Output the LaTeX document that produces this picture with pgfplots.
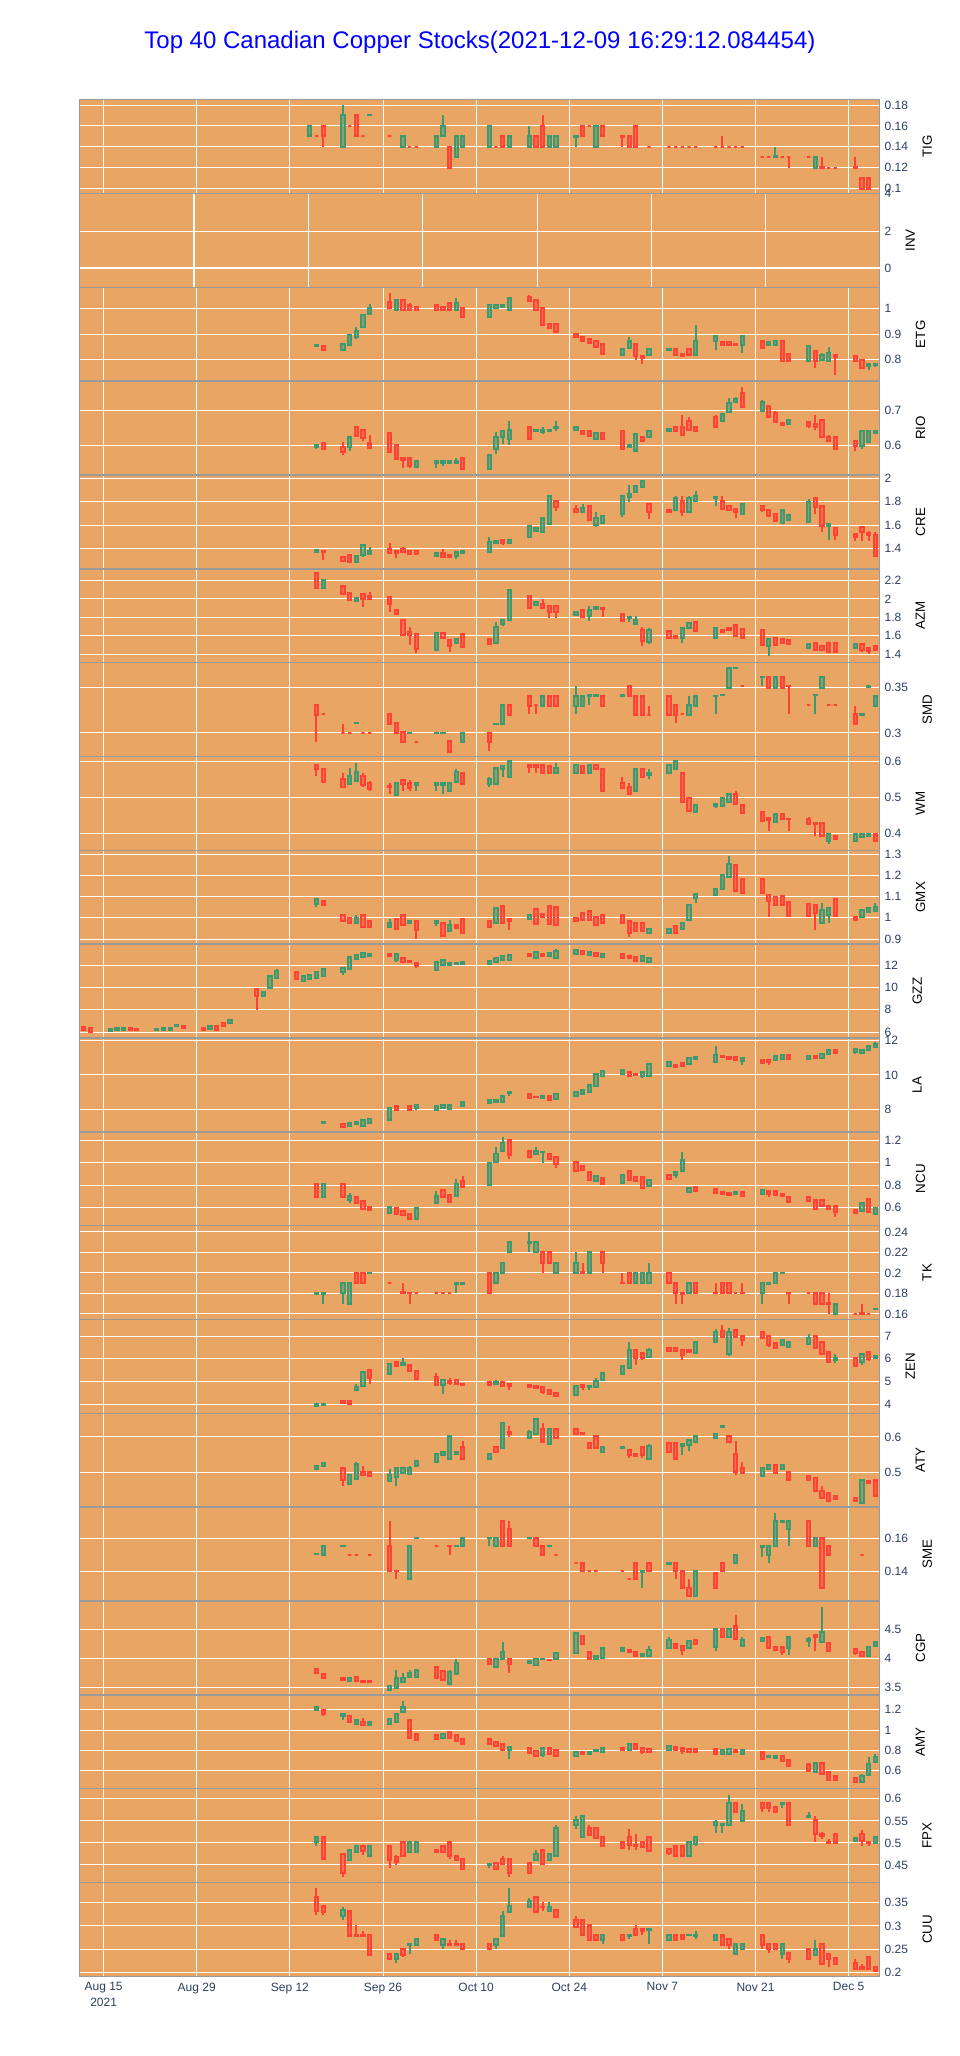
\documentclass[border=0pt]{standalone}
\usepackage{fontspec}
\setmainfont{Liberation Sans}
\usepackage{pgfplots}
\usepackage{pgfplotstable}
\pgfplotsset{compat=1.18}
\usepgfplotslibrary{groupplots}

\definecolor{bgc}{HTML}{E9A564}
\definecolor{incc}{HTML}{3D9970}
\definecolor{decc}{HTML}{FF4136}
\definecolor{fontc}{HTML}{2A3F5F}
\definecolor{framec}{HTML}{9A9A9A}

\pgfdeclareplotmark{blank}{}

\pgfplotsset{
  /pgf/number format/assume math mode=true,
  candlebase/.style={
    scatter, only marks, mark=blank,
    visualization depends on={abs(\thisrow{c}-\thisrow{o})\as\cbody},
    visualization depends on={\thisrow{h}-min(\thisrow{o},\thisrow{c})\as\chgt},
    visualization depends on={\thisrow{l}-min(\thisrow{o},\thisrow{c})\as\clow},
    scatter/@post marker code/.code={},
  },
  candleinc/.style={candlebase,
    restrict expr to domain={\thisrow{c}-\thisrow{o}}{0.0000001:1000},
    scatter/@pre marker code/.code={%
      \draw[incc, line width=1.5pt] (0pt,0pt) -- (axis direction cs:0,\clow);
      \draw[incc, line width=1.5pt] (axis direction cs:0,\cbody) -- (axis direction cs:0,\chgt);
      \filldraw[draw=incc, fill=incc, fill opacity=0.5, line width=1.5pt] (axis direction cs:-0.245,0) rectangle (axis direction cs:0.245,\cbody);
    },
  },
  candledec/.style={candlebase,
    restrict expr to domain={\thisrow{o}-\thisrow{c}}{0:1000},
    scatter/@pre marker code/.code={%
      \draw[decc, line width=1.5pt] (0pt,0pt) -- (axis direction cs:0,\clow);
      \draw[decc, line width=1.5pt] (axis direction cs:0,\cbody) -- (axis direction cs:0,\chgt);
      \filldraw[draw=decc, fill=decc, fill opacity=0.5, line width=1.5pt] (axis direction cs:-0.245,0) rectangle (axis direction cs:0.245,\cbody);
    },
  },
}

\pgfplotstableread{
d o h l c
31 0.15 0.16 0.15 0.16
32 0.15 0.15 0.15 0.15
33 0.16 0.16 0.14 0.15
36 0.14 0.18 0.14 0.17
37 0.16 0.16 0.16 0.16
38 0.17 0.17 0.15 0.15
39 0.15 0.15 0.15 0.15
40 0.17 0.1705 0.17 0.1705
43 0.15 0.15 0.15 0.15
45 0.14 0.15 0.14 0.15
46 0.14 0.14 0.14 0.14
47 0.14 0.14 0.14 0.14
50 0.14 0.15 0.14 0.15
51 0.15 0.17 0.15 0.16
52 0.14 0.14 0.12 0.12
53 0.13 0.15 0.13 0.15
54 0.14 0.15 0.14 0.15
58 0.14 0.16 0.14 0.16
59 0.14 0.14 0.14 0.14
60 0.15 0.15 0.14 0.14
61 0.14 0.15 0.14 0.15
64 0.14 0.16 0.14 0.15
65 0.15 0.15 0.14 0.14
66 0.16 0.17 0.14 0.14
67 0.14 0.15 0.14 0.15
68 0.14 0.15 0.14 0.15
71 0.149 0.15 0.14 0.15
72 0.16 0.16 0.15 0.15
73 0.16 0.16 0.16 0.16
74 0.14 0.16 0.14 0.16
75 0.16 0.16 0.15 0.15
78 0.15 0.15 0.14 0.149
79 0.15 0.15 0.14 0.14
80 0.16 0.16 0.14 0.14
82 0.14 0.14 0.14 0.14
85 0.14 0.14 0.14 0.14
86 0.14 0.14 0.14 0.14
87 0.14 0.14 0.14 0.14
88 0.14 0.14 0.14 0.14
89 0.14 0.14 0.14 0.14
92 0.14 0.14 0.14 0.14
93 0.14 0.15 0.14 0.14
94 0.14 0.14 0.14 0.14
95 0.14 0.14 0.14 0.14
96 0.14 0.14 0.14 0.14
99 0.13 0.13 0.13 0.13
100 0.13 0.13 0.13 0.13
101 0.13 0.14 0.13 0.131
102 0.13 0.13 0.13 0.13
103 0.13 0.13 0.12 0.13
106 0.13 0.13 0.13 0.13
107 0.12 0.13 0.12 0.13
108 0.121 0.13 0.12 0.12
109 0.12 0.12 0.12 0.12
110 0.12 0.12 0.12 0.12
113 0.121 0.13 0.12 0.12
114 0.11 0.11 0.10 0.10
115 0.11 0.11 0.10 0.10
}\tTIG

\pgfplotstableread{
d o h l c
32 0.855 0.86 0.853 0.86
33 0.855 0.855 0.84 0.84
36 0.84 0.862 0.84 0.862
37 0.857 0.9 0.857 0.896
38 0.888 0.93 0.88 0.914
39 0.927 0.974 0.927 0.974
40 0.979 1.02 0.975 1.005
43 1.026 1.061 1.0 1.005
44 0.997 1.035 0.997 1.035
45 1.035 1.035 0.997 0.997
46 1.016 1.022 0.997 0.997
47 1.008 1.008 0.997 0.997
50 1.013 1.013 0.997 0.997
51 1.008 1.01 0.997 0.997
52 1.021 1.021 0.997 0.997
53 0.997 1.042 0.997 1.023
54 1.003 1.003 0.968 0.968
58 0.968 1.013 0.968 1.013
59 1.005 1.013 0.998 1.013
60 1.008 1.013 1.008 1.013
61 0.997 1.044 0.997 1.044
64 1.048 1.055 1.03 1.03
65 1.035 1.035 0.997 0.997
66 1.003 1.003 0.938 0.938
67 0.94 0.94 0.925 0.925
68 0.94 0.94 0.909 0.909
71 0.903 0.903 0.888 0.888
72 0.888 0.888 0.868 0.873
73 0.882 0.882 0.866 0.866
74 0.873 0.873 0.852 0.852
75 0.862 0.862 0.823 0.823
78 0.818 0.842 0.818 0.842
79 0.847 0.89 0.847 0.873
80 0.862 0.862 0.801 0.816
81 0.816 0.816 0.782 0.808
82 0.818 0.842 0.818 0.842
85 0.839 0.844 0.839 0.844
86 0.842 0.842 0.818 0.818
87 0.823 0.823 0.816 0.816
88 0.842 0.842 0.818 0.818
89 0.818 0.938 0.818 0.873
92 0.875 0.894 0.839 0.894
93 0.87 0.87 0.857 0.857
94 0.87 0.87 0.857 0.857
95 0.862 0.862 0.857 0.857
96 0.86 0.894 0.828 0.894
99 0.875 0.875 0.847 0.847
100 0.857 0.87 0.857 0.87
101 0.857 0.875 0.857 0.875
102 0.875 0.875 0.795 0.795
103 0.823 0.823 0.795 0.795
106 0.795 0.855 0.795 0.855
107 0.834 0.834 0.769 0.795
108 0.8 0.828 0.8 0.818
109 0.795 0.852 0.795 0.826
110 0.818 0.818 0.74 0.81
113 0.813 0.813 0.795 0.795
114 0.8 0.8 0.766 0.766
115 0.777 0.782 0.761 0.782
116 0.778 0.782 0.77 0.782
}\tETG

\pgfplotstableread{
d o h l c
32 0.594 0.599 0.59 0.599
33 0.605 0.61 0.589 0.589
36 0.593 0.608 0.572 0.579
37 0.595 0.622 0.582 0.622
38 0.653 0.653 0.627 0.627
39 0.643 0.643 0.612 0.62
40 0.605 0.63 0.589 0.591
43 0.634 0.634 0.581 0.581
44 0.599 0.599 0.56 0.56
45 0.562 0.562 0.533 0.557
46 0.562 0.562 0.533 0.54
47 0.537 0.553 0.537 0.553
50 0.547 0.553 0.534 0.553
51 0.547 0.553 0.54 0.553
52 0.549 0.553 0.549 0.553
53 0.549 0.564 0.549 0.553
54 0.562 0.562 0.53 0.53
58 0.53 0.572 0.53 0.572
59 0.589 0.639 0.574 0.622
60 0.622 0.641 0.603 0.641
61 0.618 0.67 0.601 0.643
64 0.651 0.651 0.618 0.618
65 0.64 0.643 0.64 0.643
66 0.638 0.651 0.632 0.645
67 0.64 0.643 0.64 0.643
68 0.649 0.67 0.641 0.653
71 0.645 0.651 0.64 0.651
72 0.64 0.64 0.632 0.632
73 0.641 0.641 0.627 0.627
74 0.618 0.634 0.618 0.634
75 0.634 0.634 0.618 0.618
78 0.641 0.641 0.589 0.589
79 0.593 0.599 0.593 0.599
80 0.584 0.632 0.584 0.632
81 0.622 0.622 0.611 0.611
82 0.622 0.641 0.622 0.641
85 0.641 0.647 0.641 0.647
86 0.651 0.651 0.64 0.64
87 0.651 0.687 0.63 0.63
88 0.67 0.68 0.645 0.645
89 0.653 0.653 0.64 0.64
92 0.682 0.687 0.651 0.651
93 0.67 0.689 0.67 0.689
94 0.697 0.737 0.697 0.722
95 0.726 0.74 0.726 0.734
96 0.751 0.768 0.709 0.709
99 0.699 0.73 0.699 0.724
100 0.712 0.712 0.68 0.68
101 0.693 0.7 0.666 0.666
102 0.663 0.663 0.659 0.659
103 0.66 0.672 0.66 0.672
106 0.666 0.67 0.65 0.655
107 0.66 0.687 0.645 0.653
108 0.672 0.672 0.624 0.624
109 0.622 0.63 0.611 0.611
110 0.622 0.622 0.589 0.589
113 0.612 0.612 0.582 0.598
114 0.598 0.641 0.589 0.641
115 0.609 0.641 0.609 0.641
116 0.636 0.641 0.636 0.641
}\tRIO

\pgfplotstableread{
d o h l c
32 1.369 1.392 1.369 1.392
33 1.383 1.383 1.304 1.372
36 1.332 1.332 1.3 1.3
37 1.349 1.349 1.287 1.287
38 1.287 1.338 1.287 1.338
39 1.349 1.434 1.33 1.434
40 1.355 1.411 1.355 1.383
43 1.394 1.445 1.366 1.366
44 1.383 1.383 1.321 1.366
45 1.4 1.417 1.372 1.372
46 1.377 1.377 1.355 1.355
47 1.383 1.383 1.355 1.355
50 1.338 1.366 1.338 1.366
51 1.36 1.394 1.332 1.332
52 1.349 1.349 1.332 1.332
53 1.338 1.372 1.31 1.372
54 1.366 1.377 1.366 1.377
58 1.372 1.496 1.372 1.456
59 1.445 1.462 1.445 1.462
60 1.473 1.48 1.43 1.445
61 1.445 1.473 1.445 1.473
64 1.496 1.597 1.496 1.597
65 1.552 1.58 1.552 1.58
66 1.546 1.665 1.546 1.665
67 1.614 1.845 1.614 1.845
68 1.806 1.806 1.721 1.755
71 1.738 1.772 1.715 1.715
72 1.715 1.777 1.715 1.749
73 1.766 1.766 1.648 1.648
74 1.603 1.71 1.586 1.665
75 1.62 1.676 1.62 1.676
78 1.693 1.851 1.67 1.851
79 1.839 1.946 1.8 1.868
80 1.879 1.935 1.879 1.935
81 1.924 1.975 1.924 1.975
82 1.777 1.777 1.654 1.715
85 1.732 1.732 1.715 1.715
86 1.727 1.845 1.727 1.828
87 1.806 1.845 1.676 1.715
88 1.715 1.85 1.715 1.828
89 1.806 1.89 1.806 1.845
92 1.828 1.85 1.76 1.839
93 1.806 1.845 1.738 1.738
94 1.766 1.766 1.727 1.727
95 1.738 1.738 1.665 1.71
96 1.693 1.777 1.693 1.777
99 1.766 1.766 1.715 1.732
100 1.727 1.727 1.676 1.676
101 1.699 1.699 1.637 1.637
102 1.62 1.727 1.62 1.727
103 1.642 1.687 1.642 1.687
106 1.625 1.823 1.625 1.8
107 1.828 1.828 1.693 1.755
108 1.766 1.766 1.541 1.592
109 1.597 1.614 1.473 1.614
110 1.58 1.58 1.473 1.513
113 1.524 1.524 1.462 1.496
114 1.586 1.586 1.462 1.546
115 1.535 1.552 1.462 1.513
116 1.518 1.541 1.338 1.338
}\tCRE

\pgfplotstableread{
d o h l c
32 2.28 2.28 2.113 2.113
33 2.113 2.2 2.113 2.2
36 2.135 2.135 2.055 2.055
37 2.062 2.062 1.99 1.99
38 1.976 2.012 1.976 2.012
39 2.048 2.048 1.91 1.997
40 2.026 2.07 1.997 1.997
43 2.019 2.019 1.86 1.939
44 1.874 1.874 1.831 1.831
45 1.773 1.773 1.606 1.606
46 1.642 1.693 1.498 1.606
47 1.614 1.614 1.407 1.454
50 1.447 1.628 1.447 1.628
51 1.628 1.628 1.57 1.57
52 1.548 1.548 1.425 1.49
53 1.519 1.563 1.519 1.563
54 1.614 1.614 1.476 1.476
58 1.563 1.563 1.497 1.512
59 1.519 1.744 1.519 1.693
60 1.729 1.773 1.708 1.773
61 1.766 2.091 1.758 2.091
64 2.026 2.033 1.903 1.903
65 1.932 1.961 1.932 1.961
66 1.946 1.997 1.903 1.903
67 1.917 1.917 1.794 1.86
68 1.917 1.917 1.794 1.86
71 1.823 1.86 1.823 1.86
72 1.881 1.881 1.802 1.802
73 1.809 1.925 1.758 1.881
74 1.888 1.91 1.888 1.91
75 1.903 1.903 1.802 1.888
78 1.838 1.838 1.758 1.758
79 1.787 1.802 1.751 1.802
80 1.722 1.809 1.722 1.773
81 1.657 1.693 1.49 1.541
82 1.527 1.686 1.505 1.664
85 1.65 1.65 1.57 1.57
86 1.599 1.599 1.577 1.577
87 1.57 1.679 1.519 1.679
88 1.686 1.737 1.686 1.737
89 1.751 1.751 1.65 1.65
92 1.577 1.693 1.577 1.686
93 1.664 1.664 1.635 1.635
94 1.686 1.693 1.657 1.657
95 1.715 1.722 1.592 1.592
96 1.672 1.672 1.577 1.577
99 1.664 1.664 1.498 1.498
100 1.483 1.563 1.382 1.563
101 1.577 1.577 1.498 1.498
102 1.563 1.563 1.519 1.519
103 1.548 1.548 1.505 1.505
106 1.462 1.512 1.462 1.512
107 1.519 1.519 1.44 1.44
108 1.49 1.49 1.447 1.447
109 1.519 1.519 1.411 1.425
110 1.519 1.519 1.425 1.425
113 1.462 1.512 1.462 1.512
114 1.505 1.505 1.418 1.447
115 1.462 1.462 1.404 1.433
116 1.49 1.49 1.44 1.44
}\tAZM

\pgfplotstableread{
d o h l c
32 0.3307 0.3307 0.2905 0.3197
33 0.3204 0.3204 0.3204 0.3204
36 0.3 0.3102 0.3 0.3
37 0.3 0.3 0.3 0.3
38 0.3105 0.311 0.3105 0.311
39 0.3 0.3 0.3 0.3
40 0.3 0.3 0.3 0.3
43 0.3212 0.3212 0.3095 0.3095
44 0.311 0.311 0.3 0.3
45 0.3015 0.3015 0.2898 0.2898
46 0.2995 0.3 0.2995 0.3
47 0.2905 0.2905 0.2905 0.2905
50 0.2995 0.3 0.2995 0.3
51 0.2995 0.3 0.2995 0.3
52 0.2912 0.2912 0.2796 0.2796
54 0.2898 0.3 0.2898 0.3
58 0.3 0.3 0.2803 0.2898
59 0.3098 0.3102 0.3098 0.3102
60 0.3095 0.3307 0.3095 0.3307
61 0.3307 0.3307 0.3197 0.3197
64 0.3409 0.3409 0.3204 0.3299
65 0.3307 0.3307 0.3204 0.3307
66 0.3299 0.3409 0.3299 0.3409
67 0.3409 0.3416 0.3299 0.3299
68 0.3409 0.3409 0.3299 0.3299
71 0.3299 0.3511 0.3204 0.3409
72 0.3299 0.3409 0.3299 0.3409
73 0.34 0.3416 0.3307 0.3416
74 0.3405 0.341 0.3405 0.341
75 0.3409 0.3409 0.3299 0.3299
78 0.3405 0.341 0.3405 0.341
79 0.3511 0.3511 0.3409 0.3409
80 0.3409 0.3409 0.3197 0.3197
81 0.3409 0.3409 0.3197 0.3197
82 0.3197 0.3299 0.3197 0.3197
85 0.3409 0.3409 0.3197 0.3197
86 0.3307 0.3307 0.311 0.3197
87 0.3212 0.3212 0.3212 0.3212
88 0.3197 0.3409 0.3197 0.3307
89 0.3299 0.3409 0.3299 0.3409
92 0.3405 0.3409 0.3212 0.3409
93 0.3412 0.3416 0.3412 0.3416
94 0.3496 0.3715 0.3496 0.3715
95 0.3706 0.371 0.3706 0.371
96 0.3511 0.3511 0.3511 0.3511
99 0.3609 0.3613 0.3511 0.3613
100 0.3613 0.3613 0.3496 0.3496
101 0.3496 0.3613 0.3496 0.3613
102 0.3613 0.3613 0.3496 0.3496
103 0.3518 0.3518 0.3204 0.3511
106 0.3307 0.3307 0.3307 0.3307
107 0.3412 0.3416 0.3204 0.3416
108 0.3496 0.3613 0.3496 0.3613
109 0.3307 0.3307 0.3307 0.3307
110 0.3307 0.3307 0.3307 0.3307
113 0.3212 0.3299 0.3095 0.3095
114 0.32 0.3204 0.32 0.3204
115 0.3507 0.3511 0.3507 0.3511
116 0.3299 0.3409 0.3299 0.3409
}\tSMD

\pgfplotstableread{
d o h l c
32 0.589 0.589 0.559 0.578
33 0.58 0.58 0.539 0.544
36 0.55 0.569 0.528 0.528
37 0.537 0.583 0.537 0.561
38 0.546 0.596 0.546 0.57
39 0.561 0.569 0.528 0.535
40 0.541 0.546 0.519 0.524
43 0.531 0.539 0.509 0.528
44 0.507 0.541 0.507 0.541
45 0.548 0.548 0.519 0.537
46 0.541 0.548 0.519 0.526
47 0.535 0.539 0.519 0.539
50 0.535 0.539 0.519 0.539
51 0.535 0.539 0.509 0.539
52 0.517 0.539 0.517 0.539
53 0.544 0.578 0.544 0.572
54 0.569 0.569 0.537 0.537
58 0.537 0.557 0.53 0.552
59 0.537 0.581 0.537 0.581
60 0.578 0.591 0.557 0.587
61 0.557 0.6 0.557 0.6
64 0.589 0.589 0.569 0.585
65 0.589 0.589 0.569 0.585
66 0.589 0.589 0.567 0.567
67 0.587 0.587 0.567 0.567
68 0.567 0.596 0.567 0.581
71 0.567 0.589 0.567 0.589
72 0.587 0.587 0.567 0.567
73 0.567 0.589 0.567 0.589
74 0.589 0.589 0.578 0.578
75 0.58 0.58 0.517 0.517
78 0.539 0.557 0.526 0.526
79 0.53 0.539 0.511 0.511
80 0.517 0.58 0.517 0.58
81 0.58 0.58 0.557 0.557
82 0.563 0.58 0.55 0.569
85 0.567 0.589 0.567 0.589
86 0.578 0.6 0.578 0.6
87 0.569 0.569 0.487 0.487
88 0.5 0.5 0.463 0.463
89 0.461 0.48 0.461 0.48
92 0.476 0.483 0.47 0.483
93 0.476 0.498 0.476 0.498
94 0.487 0.509 0.487 0.509
95 0.509 0.517 0.483 0.483
96 0.48 0.48 0.456 0.456
99 0.459 0.459 0.435 0.435
100 0.443 0.443 0.407 0.437
101 0.433 0.454 0.433 0.454
102 0.454 0.454 0.439 0.439
103 0.44 0.44 0.407 0.439
106 0.439 0.446 0.426 0.426
107 0.43 0.43 0.394 0.426
108 0.43 0.43 0.393 0.393
109 0.38 0.398 0.37 0.398
110 0.394 0.394 0.385 0.385
113 0.378 0.4 0.378 0.4
114 0.389 0.398 0.389 0.398
115 0.394 0.4 0.394 0.4
116 0.4 0.4 0.378 0.378
}\tWM

\pgfplotstableread{
d o h l c
32 1.065 1.09 1.052 1.09
33 1.08 1.08 1.058 1.058
36 1.015 1.015 0.986 0.986
37 0.999 0.999 0.977 0.977
38 0.977 1.012 0.977 0.999
39 1.015 1.015 0.958 0.958
40 0.983 0.983 0.958 0.958
43 0.958 0.993 0.958 0.974
44 0.993 0.993 0.946 0.946
45 1.015 1.015 0.967 0.967
46 0.974 0.983 0.974 0.983
47 0.983 0.983 0.902 0.942
50 0.977 0.983 0.961 0.983
51 0.974 0.974 0.914 0.914
52 0.939 0.989 0.939 0.967
53 0.967 0.967 0.952 0.952
54 0.993 0.993 0.93 0.93
58 0.983 0.983 0.955 0.955
59 0.977 1.046 0.977 1.046
60 1.055 1.055 0.977 0.977
61 0.996 0.996 0.942 0.983
64 0.993 1.012 0.993 1.012
65 1.043 1.043 0.971 0.971
66 1.018 1.018 1.002 1.002
67 1.055 1.055 0.971 0.971
68 1.049 1.049 0.967 0.967
71 0.999 0.999 0.983 0.983
72 1.024 1.024 0.989 0.989
73 1.033 1.033 0.989 0.989
74 1.005 1.005 0.967 0.967
75 1.015 1.015 0.977 0.977
78 1.015 1.015 0.977 0.977
79 0.983 0.983 0.911 0.927
80 0.974 0.974 0.936 0.936
81 0.974 0.974 0.936 0.936
82 0.93 0.946 0.93 0.946
85 0.927 0.946 0.927 0.946
86 0.961 0.961 0.93 0.93
87 0.949 0.974 0.949 0.974
88 0.989 1.062 0.989 1.062
89 1.093 1.112 1.071 1.112
92 1.109 1.134 1.109 1.134
93 1.134 1.2 1.134 1.2
94 1.19 1.291 1.19 1.253
95 1.247 1.247 1.127 1.127
96 1.184 1.184 1.118 1.118
99 1.184 1.184 1.118 1.118
100 1.105 1.105 1.002 1.077
101 1.096 1.096 1.062 1.062
102 1.102 1.102 1.062 1.062
103 1.074 1.074 1.008 1.008
106 1.065 1.065 1.008 1.008
107 1.062 1.062 0.942 1.024
108 0.977 1.068 0.977 1.036
109 1.015 1.046 0.977 1.046
110 1.087 1.087 1.008 1.008
113 1.005 1.005 0.989 0.989
114 1.002 1.036 1.002 1.036
115 1.027 1.046 1.027 1.046
116 1.03 1.068 1.03 1.049
}\tGMX

\pgfplotstableread{
d o h l c
-3 6.45 6.45 6.21 6.21
-2 6.39 6.39 6.03 6.03
1 6.09 6.27 5.97 6.27
2 6.21 6.33 6.21 6.33
3 6.21 6.33 6.21 6.33
4 6.39 6.39 6.15 6.15
5 6.27 6.27 6.15 6.15
8 6.15 6.27 6.15 6.27
9 6.21 6.33 6.21 6.33
10 6.21 6.39 6.21 6.39
11 6.51 6.63 6.51 6.63
12 6.51 6.51 6.39 6.39
15 6.39 6.39 6.21 6.21
16 6.27 6.51 6.27 6.51
17 6.57 6.57 6.21 6.21
18 6.81 6.81 6.51 6.51
19 6.81 7.16 6.81 7.1
23 9.85 9.85 8.0 9.25
24 9.25 9.55 9.25 9.55
25 9.91 10.99 9.91 10.99
26 10.87 11.64 10.87 11.46
29 11.34 11.34 10.75 10.75
30 10.57 10.99 10.57 10.99
31 10.75 11.1 10.75 11.1
32 10.87 11.34 10.87 11.34
33 10.99 11.64 10.99 11.64
36 11.34 11.76 11.1 11.76
37 11.64 12.72 11.64 12.72
38 12.54 12.9 12.54 12.9
39 12.72 13.07 12.72 13.07
40 12.84 13.01 12.84 13.01
43 13.01 13.01 12.78 12.78
44 12.42 13.01 12.3 13.01
45 12.6 12.6 12.3 12.3
46 12.36 12.36 12.24 12.24
47 12.18 12.18 11.76 11.88
50 11.52 12.3 11.52 12.3
51 12.0 12.42 12.0 12.42
52 12.0 12.18 12.0 12.18
53 12.06 12.18 12.06 12.18
54 12.12 12.24 12.12 12.24
58 12.06 12.36 12.06 12.36
59 12.24 12.6 12.24 12.6
60 12.48 12.78 12.48 12.78
61 12.48 12.9 12.48 12.9
64 12.96 12.96 12.78 12.78
65 12.6 13.13 12.6 13.13
66 13.01 13.01 12.78 12.78
67 12.78 13.07 12.78 13.07
68 12.6 13.43 12.6 13.25
71 13.01 13.31 13.01 13.31
72 13.25 13.25 13.01 13.01
73 12.9 13.19 12.9 13.19
74 13.07 13.07 12.84 12.84
75 12.72 13.01 12.72 13.01
78 13.01 13.01 12.66 12.66
79 12.84 12.84 12.6 12.6
80 12.72 12.72 12.36 12.36
81 12.36 12.84 12.36 12.84
82 12.24 12.6 12.24 12.6
}\tGZZ

\pgfplotstableread{
d o h l c
33 7.25 7.27 7.25 7.27
36 7.19 7.19 7.0 7.0
37 7.08 7.23 7.08 7.23
38 7.15 7.27 7.15 7.27
39 7.04 7.38 7.04 7.38
40 7.23 7.46 7.23 7.46
43 7.38 8.12 7.38 8.12
44 8.19 8.27 8.0 8.0
46 8.19 8.19 8.0 8.0
47 8.08 8.27 8.0 8.27
50 8.0 8.19 8.0 8.19
51 8.12 8.27 8.12 8.27
52 8.04 8.27 8.04 8.27
54 8.19 8.42 8.19 8.42
58 8.38 8.54 8.38 8.54
59 8.42 8.58 8.42 8.58
60 8.46 8.77 8.46 8.77
61 8.96 9.04 8.77 9.04
64 8.88 8.88 8.65 8.65
65 8.75 8.75 8.73 8.73
66 8.69 8.81 8.69 8.81
67 8.81 8.81 8.58 8.58
68 8.62 8.92 8.62 8.92
71 8.77 9.04 8.77 9.04
72 8.92 9.15 8.92 9.15
73 9.04 9.42 9.04 9.42
74 9.35 10.04 9.35 10.04
75 9.92 10.23 9.92 10.23
78 10.08 10.27 10.08 10.27
79 10.19 10.19 9.96 9.96
80 10.04 10.04 10.02 10.02
81 9.92 10.19 9.81 10.19
82 9.96 10.62 9.96 10.62
85 10.5 10.73 10.5 10.73
86 10.58 10.58 10.46 10.46
87 10.69 10.69 10.5 10.5
88 10.62 11.0 10.62 11.0
89 10.92 11.04 10.92 11.04
92 10.73 11.69 10.73 11.15
93 11.08 11.08 11.06 11.06
94 11.04 11.04 10.92 10.92
95 11.04 11.04 10.88 10.88
96 10.81 11.0 10.58 11.0
99 10.85 10.85 10.69 10.69
100 10.85 10.85 10.58 10.77
101 10.88 11.08 10.88 11.08
102 10.92 11.15 10.92 11.15
103 11.15 11.15 10.92 10.92
106 10.92 11.08 10.92 11.08
107 11.08 11.08 10.96 10.96
108 10.96 11.23 10.96 11.23
109 11.23 11.46 11.23 11.46
110 11.46 11.46 11.27 11.27
113 11.31 11.5 11.23 11.5
114 11.27 11.46 11.27 11.46
115 11.42 11.65 11.42 11.65
116 11.62 11.88 11.62 11.77
}\tLA

\pgfplotstableread{
d o h l c
32 0.81 0.81 0.692 0.692
33 0.692 0.81 0.692 0.81
36 0.81 0.81 0.692 0.692
37 0.668 0.727 0.639 0.704
38 0.692 0.692 0.639 0.639
39 0.656 0.656 0.586 0.586
40 0.603 0.603 0.58 0.58
43 0.556 0.609 0.556 0.609
44 0.597 0.597 0.544 0.544
45 0.568 0.568 0.538 0.538
46 0.544 0.544 0.497 0.497
47 0.497 0.597 0.497 0.597
50 0.644 0.751 0.644 0.704
51 0.757 0.757 0.698 0.698
52 0.716 0.716 0.639 0.65
53 0.704 0.851 0.704 0.81
54 0.84 0.881 0.786 0.786
58 0.804 1.0 0.804 1.0
59 1.005 1.141 1.005 1.076
60 1.105 1.224 1.105 1.176
61 1.2 1.2 1.035 1.064
64 1.1 1.1 1.046 1.046
65 1.076 1.141 1.076 1.1
66 1.092 1.094 1.0 1.094
67 1.076 1.076 1.029 1.029
68 1.046 1.046 0.952 0.987
71 1.005 1.005 0.928 0.928
72 0.97 0.97 0.922 0.934
73 0.916 0.916 0.845 0.845
74 0.84 0.881 0.84 0.881
75 0.863 0.863 0.81 0.81
78 0.816 0.887 0.816 0.887
79 0.922 0.922 0.845 0.845
80 0.869 0.869 0.84 0.84
81 0.875 0.875 0.769 0.78
82 0.792 0.845 0.792 0.845
85 0.887 0.887 0.851 0.851
86 0.887 0.916 0.863 0.916
87 0.922 1.094 0.922 1.023
88 0.739 0.774 0.739 0.774
89 0.786 0.786 0.751 0.751
92 0.769 0.769 0.733 0.733
93 0.739 0.739 0.721 0.721
94 0.733 0.733 0.71 0.71
95 0.721 0.739 0.721 0.739
96 0.739 0.739 0.704 0.704
99 0.721 0.757 0.721 0.757
100 0.745 0.745 0.698 0.721
101 0.745 0.745 0.71 0.71
102 0.721 0.721 0.704 0.704
103 0.698 0.698 0.65 0.65
106 0.698 0.698 0.656 0.656
107 0.668 0.668 0.591 0.591
108 0.668 0.668 0.62 0.62
109 0.615 0.615 0.586 0.586
110 0.615 0.615 0.521 0.562
113 0.58 0.58 0.556 0.556
114 0.568 0.645 0.568 0.645
115 0.68 0.68 0.562 0.562
116 0.544 0.597 0.544 0.597
}\tNCU

\pgfplotstableread{
d o h l c
32 0.1798 0.18 0.1798 0.18
33 0.1795 0.18 0.17 0.18
36 0.18 0.19 0.17 0.19
37 0.17 0.19 0.17 0.19
38 0.2 0.2 0.19 0.19
39 0.2 0.2 0.19 0.19
40 0.1995 0.2 0.1995 0.2
43 0.19 0.19 0.19 0.19
45 0.181 0.19 0.18 0.18
46 0.1805 0.1805 0.17 0.18
47 0.18 0.18 0.18 0.18
50 0.18 0.18 0.18 0.18
51 0.18 0.18 0.18 0.18
52 0.18 0.18 0.18 0.18
53 0.1895 0.19 0.18 0.19
54 0.1895 0.19 0.1895 0.19
58 0.2 0.2 0.18 0.18
59 0.19 0.2 0.19 0.2
60 0.2 0.21 0.2 0.21
61 0.22 0.23 0.22 0.23
64 0.229 0.24 0.22 0.23
65 0.22 0.23 0.22 0.23
66 0.22 0.22 0.2 0.21
67 0.22 0.22 0.21 0.21
68 0.2 0.21 0.2 0.21
71 0.2 0.22 0.2 0.21
72 0.201 0.21 0.2 0.2
73 0.2 0.22 0.2 0.22
75 0.22 0.22 0.2 0.21
78 0.1905 0.2 0.19 0.19
79 0.2 0.2 0.19 0.19
80 0.19 0.2 0.19 0.2
81 0.19 0.2 0.19 0.2
82 0.19 0.21 0.19 0.2
85 0.2 0.2 0.19 0.19
86 0.19 0.19 0.17 0.18
87 0.18 0.18 0.17 0.1795
88 0.18 0.19 0.18 0.19
89 0.19 0.19 0.18 0.18
92 0.1805 0.19 0.18 0.18
93 0.19 0.19 0.18 0.18
94 0.19 0.19 0.18 0.18
95 0.18 0.18 0.18 0.18
96 0.1805 0.19 0.18 0.18
99 0.18 0.19 0.17 0.19
100 0.1895 0.19 0.1895 0.19
101 0.19 0.2 0.19 0.2
102 0.1995 0.2 0.1995 0.2
103 0.1805 0.1805 0.17 0.18
106 0.18 0.18 0.18 0.18
107 0.18 0.18 0.17 0.17
108 0.18 0.18 0.17 0.17
109 0.1705 0.18 0.16 0.17
110 0.16 0.17 0.16 0.17
113 0.16 0.16 0.16 0.16
114 0.1605 0.17 0.16 0.16
115 0.16 0.16 0.16 0.16
116 0.1648 0.1652 0.1648 0.1652
}\tTK

\pgfplotstableread{
d o h l c
32 3.93 4.01 3.93 4.01
33 3.96 4.01 3.96 4.01
36 4.13 4.13 4.04 4.04
37 4.13 4.13 4.01 4.01
38 4.6 4.9 4.6 4.75
39 4.81 5.4 4.81 5.4
40 5.51 5.51 4.87 5.13
43 5.34 5.75 5.34 5.75
44 5.84 5.84 5.69 5.69
45 5.72 6.01 5.72 5.81
46 5.72 5.72 5.46 5.46
47 5.46 5.46 5.1 5.1
50 5.19 5.37 4.84 4.84
51 4.84 5.07 4.43 5.07
52 5.01 5.13 4.84 4.93
53 5.04 5.04 4.87 4.87
54 4.9 4.9 4.84 4.84
58 4.96 4.96 4.78 4.84
59 4.87 5.04 4.87 4.96
60 4.99 4.99 4.81 4.81
61 4.87 4.87 4.63 4.78
64 4.84 4.84 4.75 4.75
65 4.81 4.81 4.69 4.69
66 4.75 4.75 4.46 4.54
67 4.63 4.63 4.46 4.46
68 4.49 4.49 4.37 4.37
71 4.4 4.81 4.4 4.81
72 4.84 4.84 4.63 4.75
73 4.75 4.81 4.63 4.81
74 4.75 5.13 4.75 5.01
75 5.07 5.37 5.07 5.37
78 5.34 5.69 5.34 5.69
79 5.6 6.72 5.6 6.4
80 6.4 6.4 5.72 6.01
81 6.25 6.25 5.93 6.04
82 6.07 6.46 6.07 6.37
85 6.49 6.49 6.34 6.34
86 6.49 6.49 6.34 6.34
87 6.37 6.37 5.93 6.16
88 6.4 6.4 6.28 6.28
89 6.25 6.75 6.25 6.75
92 6.75 7.31 6.75 7.19
93 7.22 7.49 6.96 6.96
94 6.19 7.37 6.13 7.19
95 7.25 7.25 6.96 6.96
96 6.99 6.99 6.54 6.81
99 7.16 7.16 6.9 6.9
100 6.99 6.99 6.51 6.6
101 6.69 6.69 6.46 6.46
102 6.6 6.81 6.6 6.81
103 6.51 6.72 6.51 6.72
106 6.66 7.1 6.66 6.93
107 7.01 7.01 6.46 6.46
108 6.72 6.72 6.22 6.22
109 6.28 6.28 5.84 5.84
110 5.96 6.19 5.81 6.01
113 6.01 6.01 5.69 5.69
114 5.84 6.22 5.72 6.22
115 6.31 6.31 5.9 5.99
116 6.01 6.1 6.01 6.1
}\tZEN

\pgfplotstableread{
d o h l c
32 0.508 0.517 0.508 0.517
33 0.519 0.526 0.519 0.526
36 0.511 0.511 0.462 0.477
37 0.468 0.492 0.468 0.492
38 0.481 0.53 0.481 0.523
39 0.502 0.519 0.492 0.492
40 0.502 0.502 0.489 0.489
43 0.474 0.508 0.474 0.492
44 0.487 0.511 0.46 0.511
45 0.498 0.511 0.498 0.511
46 0.496 0.519 0.496 0.511
47 0.519 0.532 0.519 0.532
50 0.528 0.551 0.528 0.551
51 0.549 0.558 0.549 0.558
52 0.538 0.602 0.538 0.602
53 0.551 0.558 0.551 0.558
54 0.572 0.589 0.538 0.538
58 0.538 0.551 0.538 0.551
59 0.572 0.572 0.558 0.558
60 0.568 0.64 0.568 0.64
61 0.613 0.63 0.6 0.608
64 0.596 0.619 0.596 0.613
65 0.608 0.651 0.608 0.651
66 0.621 0.638 0.587 0.587
67 0.579 0.621 0.579 0.621
68 0.621 0.621 0.598 0.598
71 0.621 0.621 0.608 0.608
72 0.611 0.611 0.608 0.608
73 0.583 0.583 0.568 0.568
74 0.602 0.602 0.568 0.568
75 0.558 0.572 0.558 0.572
78 0.568 0.572 0.568 0.572
79 0.562 0.562 0.541 0.549
80 0.553 0.553 0.547 0.547
81 0.572 0.572 0.541 0.549
82 0.538 0.579 0.538 0.574
85 0.583 0.583 0.558 0.558
86 0.583 0.583 0.538 0.538
87 0.575 0.581 0.549 0.581
88 0.577 0.591 0.56 0.591
89 0.587 0.602 0.587 0.602
92 0.598 0.608 0.598 0.608
93 0.628 0.632 0.628 0.632
94 0.602 0.602 0.587 0.587
95 0.553 0.589 0.491 0.5
96 0.511 0.528 0.498 0.498
99 0.489 0.511 0.489 0.511
100 0.509 0.521 0.509 0.521
101 0.521 0.521 0.498 0.498
102 0.509 0.521 0.509 0.521
103 0.502 0.502 0.479 0.479
106 0.489 0.492 0.477 0.477
107 0.485 0.485 0.447 0.447
108 0.447 0.46 0.428 0.428
109 0.441 0.441 0.419 0.419
110 0.432 0.432 0.423 0.423
113 0.428 0.428 0.419 0.419
114 0.413 0.477 0.413 0.477
115 0.474 0.474 0.47 0.47
116 0.477 0.477 0.434 0.434
}\tATY

\pgfplotstableread{
d o h l c
32 0.1502 0.1504 0.1502 0.1504
33 0.1496 0.1552 0.1496 0.1552
36 0.155 0.1552 0.155 0.1552
37 0.15 0.15 0.15 0.15
38 0.15 0.15 0.15 0.15
40 0.15 0.15 0.15 0.15
43 0.1552 0.17 0.14 0.14
44 0.1402 0.1402 0.1352 0.14
46 0.1352 0.1552 0.1352 0.1552
47 0.1598 0.16 0.1598 0.16
50 0.1552 0.1552 0.1552 0.1552
52 0.1554 0.1554 0.15 0.1552
53 0.155 0.1552 0.155 0.1552
54 0.1552 0.16 0.1552 0.16
58 0.1598 0.16 0.1552 0.16
59 0.1552 0.16 0.1552 0.16
60 0.17 0.17 0.1552 0.1552
61 0.1652 0.17 0.1552 0.1552
64 0.1598 0.16 0.1598 0.16
65 0.16 0.16 0.1552 0.1552
66 0.1552 0.1552 0.15 0.15
67 0.155 0.1552 0.155 0.1552
68 0.15 0.15 0.15 0.15
71 0.1448 0.1448 0.1448 0.1448
72 0.1448 0.1448 0.14 0.14
73 0.14 0.14 0.14 0.14
74 0.14 0.14 0.14 0.14
78 0.14 0.14 0.14 0.14
79 0.1352 0.1352 0.1352 0.1352
80 0.1448 0.1448 0.1352 0.1352
81 0.1398 0.14 0.13 0.14
82 0.1448 0.1448 0.14 0.14
85 0.1446 0.1448 0.1446 0.1448
86 0.1448 0.1448 0.1352 0.14
87 0.14 0.14 0.13 0.13
88 0.13 0.1352 0.1252 0.1252
89 0.1252 0.14 0.1252 0.14
92 0.1392 0.1392 0.13 0.13
93 0.1448 0.1448 0.14 0.14
95 0.1448 0.15 0.1448 0.15
99 0.1548 0.1552 0.1484 0.1552
100 0.15 0.1552 0.1452 0.1552
101 0.1552 0.1748 0.1552 0.17
102 0.1698 0.17 0.1698 0.17
103 0.1652 0.17 0.1552 0.17
106 0.17 0.17 0.1552 0.1552
107 0.1552 0.16 0.1552 0.16
108 0.16 0.16 0.13 0.13
109 0.1552 0.1552 0.15 0.15
114 0.15 0.15 0.15 0.15
}\tSME

\pgfplotstableread{
d o h l c
32 3.83 3.83 3.76 3.76
33 3.73 3.73 3.66 3.66
36 3.67 3.67 3.63 3.63
37 3.62 3.67 3.62 3.67
38 3.69 3.7 3.61 3.61
39 3.62 3.62 3.59 3.59
40 3.61 3.61 3.59 3.59
43 3.46 3.53 3.46 3.53
44 3.49 3.81 3.49 3.67
45 3.6 3.75 3.6 3.67
46 3.68 3.81 3.66 3.76
47 3.68 3.81 3.68 3.81
50 3.86 3.86 3.67 3.67
51 3.78 3.78 3.64 3.64
52 3.56 3.81 3.56 3.77
53 3.74 4.0 3.74 3.92
58 4.0 4.0 3.91 3.91
59 3.85 4.0 3.85 4.0
60 3.99 4.29 3.99 4.11
61 4.0 4.0 3.76 3.91
64 3.92 3.96 3.92 3.96
65 3.89 4.0 3.89 4.0
66 3.995 4.0 3.995 4.0
67 3.98 3.98 3.97 3.97
68 3.99 4.1 3.99 4.1
71 4.1 4.45 4.1 4.45
72 4.4 4.4 4.26 4.26
73 4.12 4.12 4.0 4.0
74 4.0 4.04 4.0 4.04
75 4.01 4.2 4.01 4.18
78 4.14 4.18 4.14 4.18
79 4.16 4.16 4.11 4.11
80 4.11 4.11 4.04 4.04
81 4.04 4.08 4.04 4.08
82 4.05 4.22 4.05 4.16
85 4.19 4.37 4.19 4.32
86 4.26 4.26 4.19 4.19
87 4.22 4.22 4.07 4.15
88 4.18 4.3 4.18 4.3
89 4.32 4.32 4.25 4.25
92 4.2 4.51 4.13 4.51
93 4.51 4.51 4.38 4.38
94 4.38 4.53 4.38 4.51
95 4.56 4.75 4.34 4.34
96 4.22 4.38 4.2 4.33
99 4.3 4.36 4.3 4.36
100 4.38 4.38 4.19 4.19
101 4.21 4.21 4.16 4.16
102 4.2 4.2 4.06 4.12
103 4.19 4.38 4.06 4.38
106 4.3 4.37 4.21 4.34
107 4.41 4.41 4.14 4.37
108 4.29 4.89 4.29 4.47
109 4.27 4.27 4.11 4.14
113 4.17 4.17 4.07 4.1
114 4.11 4.11 4.05 4.05
115 4.05 4.21 4.05 4.21
116 4.22 4.29 4.22 4.29
}\tCGP

\pgfplotstableread{
d o h l c
32 1.193 1.226 1.193 1.226
33 1.193 1.193 1.134 1.154
36 1.134 1.154 1.095 1.154
37 1.134 1.134 1.075 1.075
38 1.056 1.095 1.056 1.095
39 1.075 1.115 1.049 1.049
40 1.049 1.082 1.049 1.082
43 1.056 1.108 1.056 1.108
44 1.075 1.154 1.075 1.154
45 1.174 1.285 1.174 1.226
46 1.102 1.102 0.918 0.918
47 0.957 0.957 0.898 0.898
50 0.951 0.951 0.911 0.911
51 0.925 0.964 0.925 0.964
52 0.977 0.977 0.918 0.918
53 0.951 0.951 0.892 0.892
54 0.911 0.911 0.866 0.866
58 0.911 0.911 0.866 0.866
59 0.879 0.879 0.839 0.839
60 0.859 0.859 0.807 0.807
61 0.807 0.833 0.715 0.833
64 0.826 0.826 0.774 0.774
65 0.793 0.793 0.741 0.741
66 0.754 0.82 0.734 0.82
67 0.82 0.82 0.767 0.767
68 0.8 0.8 0.748 0.748
71 0.748 0.78 0.748 0.78
72 0.787 0.787 0.761 0.761
73 0.767 0.787 0.767 0.787
74 0.797 0.8 0.797 0.8
75 0.787 0.82 0.787 0.82
78 0.826 0.826 0.8 0.8
79 0.8 0.859 0.8 0.859
80 0.859 0.859 0.813 0.813
81 0.826 0.826 0.767 0.78
82 0.813 0.813 0.78 0.78
85 0.8 0.846 0.8 0.846
86 0.833 0.833 0.807 0.807
87 0.82 0.82 0.767 0.793
88 0.813 0.813 0.787 0.787
89 0.813 0.813 0.787 0.787
92 0.813 0.813 0.767 0.767
93 0.767 0.8 0.767 0.8
94 0.761 0.813 0.761 0.813
95 0.8 0.8 0.78 0.78
96 0.767 0.8 0.767 0.8
99 0.787 0.787 0.715 0.715
100 0.734 0.748 0.734 0.748
101 0.728 0.741 0.728 0.741
102 0.741 0.741 0.695 0.695
103 0.702 0.702 0.649 0.649
106 0.669 0.669 0.597 0.597
107 0.59 0.689 0.59 0.675
108 0.675 0.675 0.564 0.564
109 0.59 0.59 0.511 0.511
110 0.544 0.544 0.511 0.511
113 0.531 0.531 0.485 0.485
114 0.492 0.57 0.492 0.544
115 0.557 0.734 0.557 0.669
116 0.689 0.761 0.689 0.734
}\tAMY

\pgfplotstableread{
d o h l c
32 0.501 0.513 0.492 0.513
33 0.513 0.513 0.464 0.464
36 0.474 0.474 0.423 0.431
37 0.461 0.485 0.461 0.485
38 0.48 0.494 0.48 0.494
39 0.494 0.494 0.473 0.482
40 0.471 0.494 0.471 0.494
43 0.494 0.494 0.443 0.461
44 0.467 0.473 0.45 0.456
45 0.503 0.503 0.471 0.471
46 0.48 0.503 0.48 0.503
47 0.48 0.503 0.48 0.503
50 0.485 0.485 0.48 0.48
51 0.494 0.494 0.48 0.48
52 0.503 0.503 0.464 0.47
53 0.471 0.471 0.461 0.461
54 0.464 0.464 0.441 0.441
58 0.451 0.453 0.444 0.453
59 0.455 0.455 0.441 0.441
60 0.464 0.471 0.452 0.452
61 0.464 0.464 0.423 0.431
64 0.455 0.455 0.431 0.431
65 0.462 0.485 0.462 0.474
66 0.483 0.483 0.453 0.453
67 0.461 0.474 0.461 0.474
68 0.471 0.54 0.471 0.533
71 0.54 0.561 0.531 0.552
72 0.513 0.561 0.513 0.56
73 0.534 0.54 0.519 0.519
74 0.533 0.533 0.512 0.512
75 0.513 0.513 0.494 0.494
78 0.503 0.503 0.488 0.488
79 0.513 0.531 0.483 0.495
80 0.495 0.52 0.483 0.492
81 0.503 0.503 0.491 0.491
82 0.513 0.513 0.482 0.482
85 0.486 0.486 0.473 0.477
86 0.494 0.494 0.471 0.471
87 0.494 0.494 0.471 0.471
88 0.471 0.504 0.471 0.501
89 0.498 0.513 0.494 0.513
92 0.54 0.552 0.522 0.547
93 0.54 0.543 0.522 0.543
94 0.54 0.609 0.54 0.591
95 0.591 0.591 0.569 0.569
96 0.55 0.589 0.55 0.572
99 0.591 0.591 0.57 0.579
100 0.591 0.591 0.57 0.579
101 0.582 0.582 0.569 0.569
102 0.588 0.591 0.579 0.591
103 0.591 0.591 0.54 0.54
106 0.558 0.569 0.558 0.561
107 0.552 0.56 0.501 0.52
108 0.52 0.525 0.51 0.516
109 0.503 0.51 0.5 0.5
110 0.52 0.52 0.5 0.5
113 0.504 0.512 0.504 0.512
114 0.52 0.53 0.494 0.504
115 0.502 0.502 0.494 0.5
116 0.5 0.513 0.5 0.513
}\tFPX

\pgfplotstableread{
d o h l c
32 0.3629 0.3816 0.3227 0.3313
33 0.3428 0.3428 0.3227 0.33
36 0.3213 0.3414 0.3127 0.3342
37 0.3328 0.3328 0.2783 0.2783
38 0.2795 0.3012 0.2783 0.2783
39 0.2797 0.2897 0.2783 0.2783
40 0.2811 0.2811 0.2381 0.2381
43 0.2395 0.2395 0.2281 0.2281
44 0.2281 0.2395 0.2209 0.2395
45 0.251 0.251 0.2338 0.2381
46 0.2582 0.2611 0.2395 0.2611
47 0.2596 0.2711 0.2596 0.2711
50 0.2811 0.2811 0.2697 0.2697
51 0.2596 0.2711 0.251 0.2711
52 0.2603 0.2697 0.2596 0.2596
53 0.2603 0.2697 0.2596 0.2596
54 0.2611 0.2611 0.25 0.25
58 0.2611 0.2611 0.25 0.25
59 0.2596 0.2711 0.251 0.2711
60 0.2783 0.3313 0.2783 0.3213
61 0.33 0.3816 0.33 0.3428
64 0.3399 0.36 0.3399 0.3529
65 0.3629 0.3629 0.33 0.33
66 0.3406 0.3514 0.3328 0.3399
67 0.3313 0.3514 0.3313 0.3414
68 0.3342 0.3342 0.3199 0.3199
71 0.3127 0.3213 0.2969 0.2969
72 0.3127 0.3127 0.2797 0.2797
73 0.3012 0.3012 0.2697 0.2697
74 0.2797 0.2797 0.2697 0.2697
75 0.2697 0.2797 0.2611 0.2797
78 0.2811 0.2811 0.2697 0.2697
79 0.2783 0.2811 0.2711 0.2811
80 0.2926 0.3012 0.2797 0.2797
81 0.2926 0.2926 0.2811 0.2897
82 0.2915 0.2926 0.2611 0.2926
85 0.2697 0.2811 0.2697 0.2811
86 0.2811 0.2811 0.2697 0.2697
87 0.2811 0.2811 0.2711 0.2711
88 0.2793 0.2797 0.2793 0.2797
89 0.2783 0.2897 0.2711 0.2811
92 0.2697 0.2811 0.2697 0.2811
93 0.2811 0.2811 0.2596 0.2596
94 0.2711 0.2711 0.251 0.2596
95 0.2395 0.2611 0.2395 0.2611
96 0.25 0.2611 0.25 0.2611
99 0.2811 0.2811 0.251 0.2596
100 0.2611 0.2611 0.2409 0.25
101 0.2611 0.2611 0.25 0.25
102 0.2395 0.2611 0.2295 0.2611
103 0.2409 0.2409 0.2194 0.2295
106 0.251 0.251 0.2281 0.2281
107 0.2381 0.2697 0.2381 0.251
108 0.2611 0.2611 0.218 0.218
109 0.2395 0.2395 0.2108 0.2281
110 0.2309 0.2309 0.218 0.218
113 0.2194 0.2281 0.208 0.208
114 0.2108 0.218 0.208 0.208
115 0.2323 0.2323 0.208 0.208
116 0.2108 0.2108 0.2036 0.2036
}\tCUU

\newcommand{\cplot}[1]{%
  \addplot[candleinc] table[x=d, y expr={min(\thisrow{o},\thisrow{c})}] {#1};
  \addplot[candledec] table[x=d, y expr={min(\thisrow{o},\thisrow{c})}] {#1};
}

\begin{document}
\begin{tikzpicture}
\begin{groupplot}[
  group style={group size=1 by 20, vertical sep=0.375pt, xticklabels at=edge bottom},
  width=600pt, height=70pt, scale only axis,
  xmin=-3.55, xmax=116.7,
  xtick={0,14,28,42,56,70,84,98,112},
  xticklabels={{Aug 15\\2021},{Aug 29},{Sep 12},{Sep 26},{Oct 10},{Oct 24},{Nov 7},{Nov 21},{Dec 5}},
  xticklabel style={align=center, yshift=-1.5pt},
  tick label style={font=\fontsize{9}{12}\selectfont, text=fontc},
  label style={font=\fontsize{10.5}{12}\selectfont, text=fontc},
  major tick length=0pt,
  axis line style={framec, line width=0.75pt},
  axis background/.style={fill=bgc},
  grid=major,
  major grid style={white, line width=0.75pt},
  yticklabel pos=right,
  ylabel near ticks,
  ylabel style={at={(ticklabel cs:0.5,4pt)}, anchor=near ticklabel},
  scaled y ticks=false,
  yticklabel style={/pgf/number format/fixed, /pgf/number format/precision=3},
]
\nextgroupplot[ymin=0.0955, ymax=0.1848, ytick={0.1,0.12,0.14,0.16,0.18}, ylabel=TIG]
\cplot{\tTIG}
\nextgroupplot[xmin=-1, xmax=6, xtick={0,1,2,3,4,5}, ymin=-1, ymax=4, ytick={0,2,4}, ylabel=INV,
  extra x ticks={0}, extra y ticks={0}, extra x tick labels={}, extra y tick labels={},
  extra tick style={grid=major, major grid style={white, line width=1.5pt}}]
\nextgroupplot[ymin=0.717, ymax=1.083, ytick={0.8,0.9,1}, ylabel=ETG]
\cplot{\tETG}
\nextgroupplot[ymin=0.514, ymax=0.784, ytick={0.6,0.7}, ylabel=RIO]
\cplot{\tRIO}
\nextgroupplot[ymin=1.231, ymax=2.025, ytick={1.4,1.6,1.8,2}, ylabel=CRE]
\cplot{\tCRE}
\nextgroupplot[ymin=1.309, ymax=2.323, ytick={1.4,1.6,1.8,2,2.2}, ylabel=AZM]
\cplot{\tAZM}
\nextgroupplot[ymin=0.2745, ymax=0.3766, ytick={0.3,0.35}, ylabel=SMD]
\cplot{\tSMD}
\nextgroupplot[ymin=0.354, ymax=0.613, ytick={0.4,0.5,0.6}, ylabel=WM]
\cplot{\tWM}
\nextgroupplot[ymin=0.877, ymax=1.316, ytick={0.9,1,1.1,1.2,1.3}, ylabel=GMX]
\cplot{\tGMX}
\nextgroupplot[ymin=5.49, ymax=13.85, ytick={6,8,10,12}, ylabel=GZZ]
\cplot{\tGZZ}
\nextgroupplot[ymin=6.73, ymax=12.12, ytick={8,10,12}, ylabel=LA]
\cplot{\tLA}
\nextgroupplot[ymin=0.444, ymax=1.271, ytick={0.6,0.8,1,1.2}, ylabel=NCU]
\cplot{\tNCU}
\nextgroupplot[ymin=0.1548, ymax=0.2459, ytick={0.16,0.18,0.2,0.22,0.24}, ylabel=TK]
\cplot{\tTK}
\nextgroupplot[ymin=3.6, ymax=7.72, ytick={4,5,6,7}, ylabel=ZEN]
\cplot{\tZEN}
\nextgroupplot[ymin=0.402, ymax=0.666, ytick={0.5,0.6}, ylabel=ATY]
\cplot{\tATY}
\nextgroupplot[ymin=0.1224, ymax=0.1784, ytick={0.14,0.16}, ylabel=SME]
\cplot{\tSME}
\nextgroupplot[ymin=3.379, ymax=4.997, ytick={3.5,4,4.5}, ylabel=CGP]
\cplot{\tCGP}
\nextgroupplot[ymin=0.426, ymax=1.344, ytick={0.6,0.8,1,1.2}, ylabel=AMY]
\cplot{\tAMY}
\nextgroupplot[ymin=0.411, ymax=0.6225, ytick={0.45,0.5,0.55,0.6}, ylabel=FPX]
\cplot{\tFPX}
\nextgroupplot[ymin=0.192, ymax=0.393, ytick={0.2,0.25,0.3,0.35}, ylabel=CUU]
\cplot{\tCUU}
\end{groupplot}
\node[font=\fontsize{18}{22}\selectfont, text=blue] at ([yshift=43.5pt]group c1r1.north) {Top 40 Canadian Copper Stocks(2021-12-09 16:29:12.084454)};
\pgfresetboundingbox
\path[use as bounding box] ([xshift=-60pt,yshift=75pt]group c1r1.north west) rectangle ([xshift=60pt,yshift=-60pt]group c1r20.south east);
\end{tikzpicture}
\end{document}
